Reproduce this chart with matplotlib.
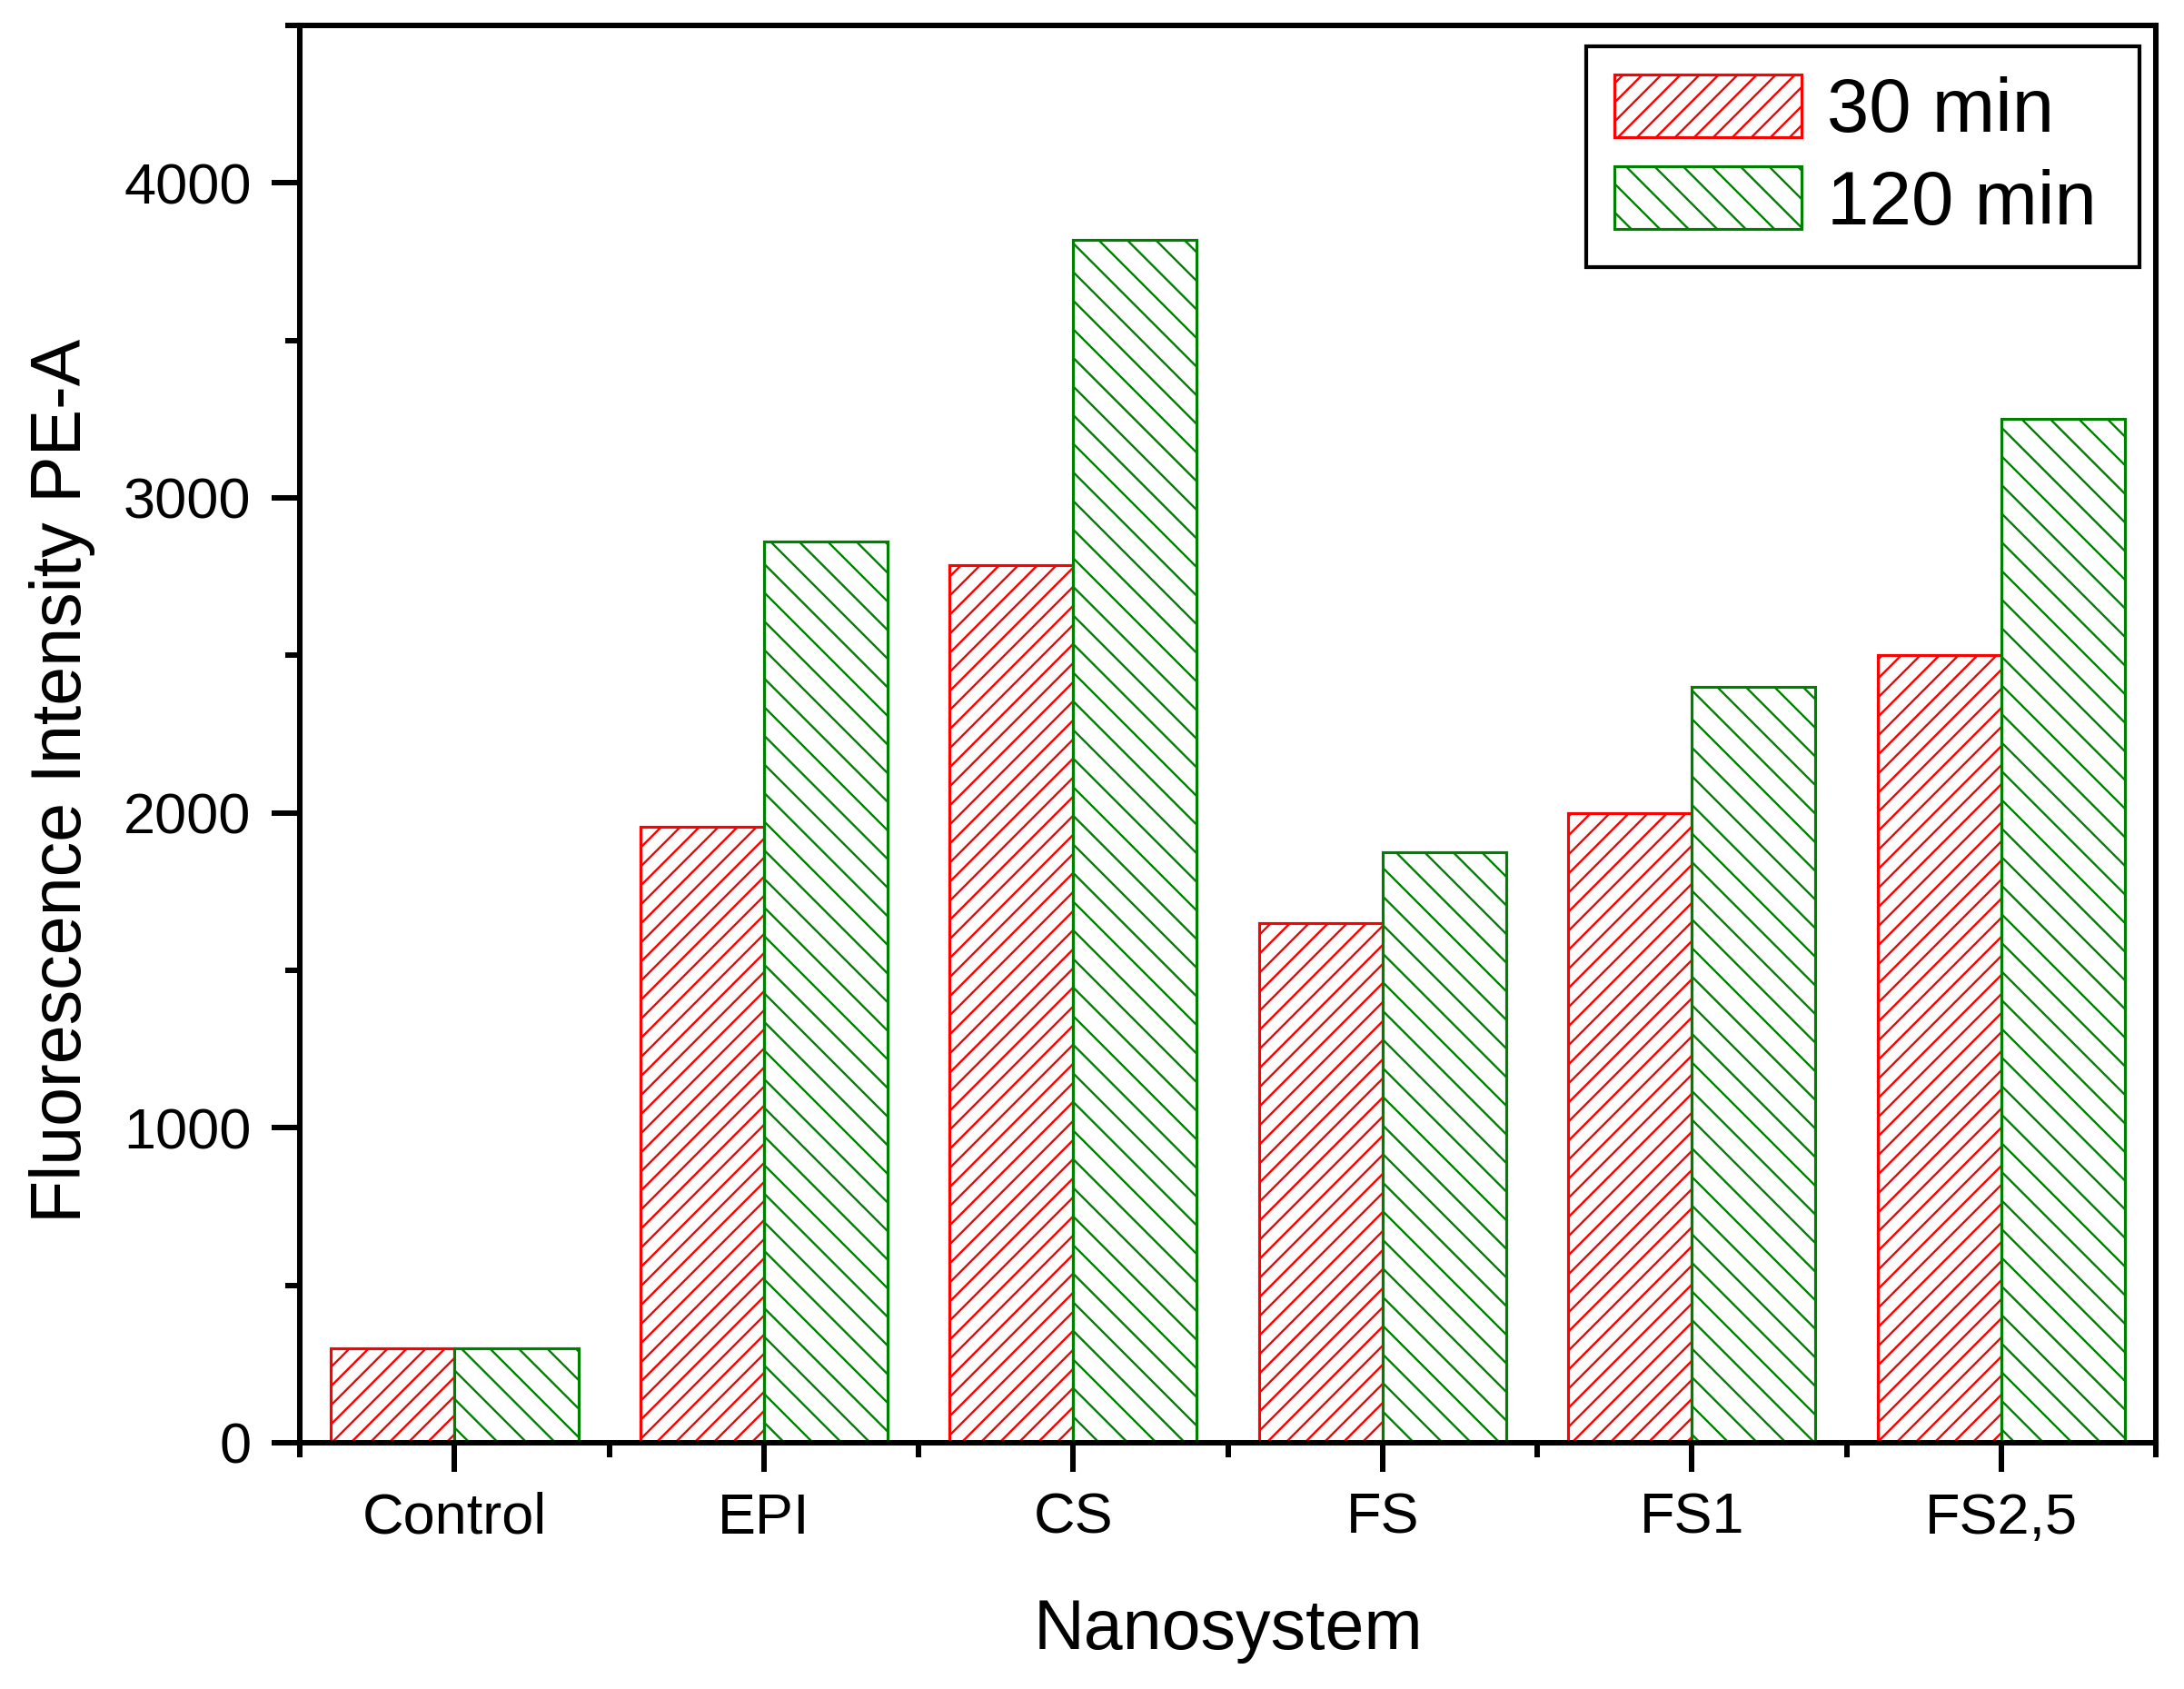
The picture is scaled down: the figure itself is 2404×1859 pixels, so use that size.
import numpy as np
import matplotlib
matplotlib.use('Agg')
from matplotlib import pyplot as plt
from matplotlib.ticker import MultipleLocator

plt.rcParams['font.family'] = ['Liberation Sans', 'DejaVu Sans']
plt.rcParams['hatch.linewidth'] = 0.45

# data
categories = ['Control', 'EPI', 'CS', 'FS', 'FS1', 'FS2,5']
vals_30 = [300, 1955, 2785, 1650, 2000, 2500]
vals_120 = [300, 2860, 3820, 1875, 2400, 3250]
series_labels = ['30 min', '120 min']

DPI = 378
fig = plt.figure(figsize=(2404 / DPI, 1859 / DPI), dpi=DPI)
ax = fig.add_axes([0.1373, 0.1458, 0.8498, 0.8392])

x = np.arange(len(categories))
w = 0.4
# thin space after the label gives the legend a little more room on the right
ax.bar(x - w / 2, vals_30, w, facecolor='white', edgecolor='red',
       hatch='/' * 6, linewidth=0.6, label=series_labels[0] + '\u2009')
ax.bar(x + w / 2, vals_120, w, facecolor='white', edgecolor='green',
       hatch='\\' * 4, linewidth=0.6, label=series_labels[1] + '\u2009')

ax.set_xlim(-0.5, 5.5)
ax.set_ylim(0, 4500)
ax.set_xticks(x)
ax.set_xticklabels(categories)
ax.xaxis.set_minor_locator(MultipleLocator(0.5))
ax.yaxis.set_major_locator(MultipleLocator(1000))
ax.yaxis.set_minor_locator(MultipleLocator(500))

for s in ax.spines.values():
    s.set_linewidth(1.15)
ax.tick_params(which='major', length=6, width=1.15, labelsize=12, pad=4.2,
               direction='out', top=False, right=False)
ax.tick_params(which='minor', length=3, width=1.15, direction='out',
               top=False, right=False)

ax.set_xlabel('Nanosystem', fontsize=14.7, labelpad=11)
ax.set_ylabel('Fluorescence Intensity PE-A', fontsize=14.7, labelpad=6, y=0.467)

leg = ax.legend(loc='upper right', bbox_to_anchor=(0.9796, 0.9726),
                bbox_transform=fig.transFigure, borderaxespad=0,
                fontsize=15.9, handlelength=2.47, handleheight=0.9,
                handletextpad=0.33, labelspacing=0.25, borderpad=0.37,
                fancybox=False, framealpha=1, edgecolor='black')
leg.get_frame().set_linewidth(0.8)

fig.savefig('out.png', dpi=DPI)
